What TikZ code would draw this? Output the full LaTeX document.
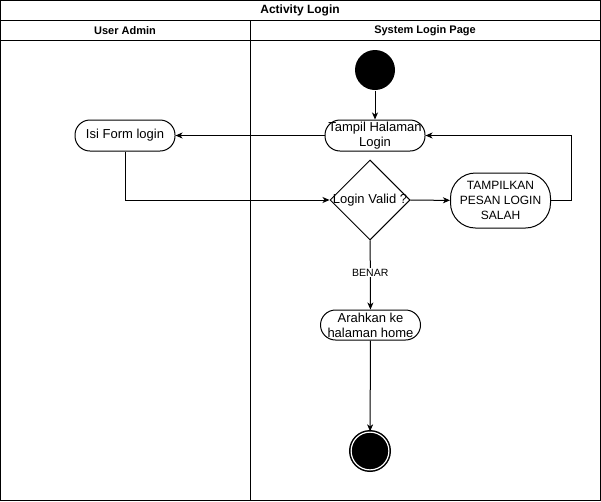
\documentclass[tikz,border=0pt]{standalone}
\usepackage{fontspec}
\setmainfont{Liberation Sans}
\usetikzlibrary{arrows.meta,positioning,shapes.geometric}

\begin{document}
\begin{tikzpicture}[x=1pt, y=-1pt, line width=1pt,
  act/.style={draw, rounded corners=15pt, minimum width=100pt, minimum height=31pt,
    align=center, inner sep=0pt, font=\fontsize{13}{15}\selectfont},
  decide/.style={draw, diamond, aspect=1, minimum size=80pt, inner sep=0pt,
    label={[font=\fontsize{13}{15}\selectfont]center:#1}},
  flow/.style={-{Stealth[length=7pt,width=6pt,inset=2pt]}},
  lane/.style={font=\bfseries\fontsize{11}{13}\selectfont},
  lbl/.style={fill=white, inner sep=1pt, font=\fontsize{10.5}{12}\selectfont},
]
  \useasboundingbox (0,0) rectangle (601,501);

  % Swimlane frame and headers.
  \draw (0.5,0.5) rectangle (600.5,500.5);
  \draw (0.5,20.5) -- (600.5,20.5);
  \draw (0.5,40.5) -- (600.5,40.5);
  \draw (250.5,20.5) -- (250.5,500.5);
  \node[font=\bfseries\fontsize{12}{14}\selectfont] (title) at (300,10.5) {Activity Login};
  \node[lane] (laneuser) at (125,30.5) {User Admin};
  \node[lane] (lanesys) at (425,30.5) {System Login Page};

  % Activities.
  \node[circle, fill=black, minimum size=40pt, inner sep=0pt] (start) at (375,70) {};
  \node[act] (tampil) at (375,135.5) {Tampil Halaman\\Login};
  \node[act] (isi) at (125,135.5) {Isi Form login};
  \node[decide={Login Valid ?}] (valid) at (370,200) {};
  \node[act, rounded corners=25pt, minimum height=55pt, font=\fontsize{12}{15}\selectfont]
    (salah) at (500.5,200.5) {TAMPILKAN\\PESAN LOGIN\\SALAH};
  \node[act, minimum height=30pt] (home) at (370.5,325) {Arahkan ke\\halaman home};
  \node[circle, fill=black, draw=black, double=white, double distance=1.2pt,
    line width=1.5pt, minimum size=37.8pt, inner sep=0pt] (stop) at (370,451) {};

  % Control flow.
  \draw[flow] (start) -- (tampil);
  \draw[flow] (tampil) -- (isi);
  \draw[flow] (isi.south) |- (valid.west);
  \draw[flow] (valid) -- (salah);
  \draw[flow] (salah.east) -- ++(20,0) |- (tampil.east);
  \draw[flow] (valid) -- node[lbl, pos=0.47] {BENAR} (home);
  \draw[flow] (home) -- (stop);
\end{tikzpicture}
\end{document}
